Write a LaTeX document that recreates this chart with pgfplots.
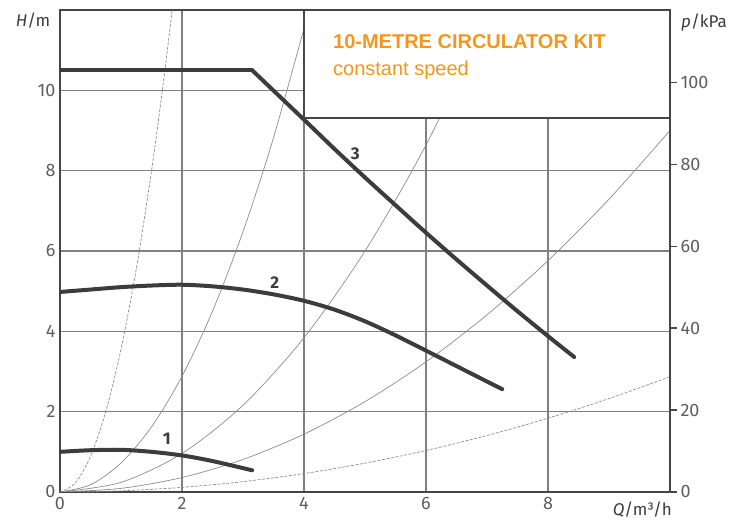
\documentclass[border=0pt]{standalone}
\usepackage{pgfplots}
\pgfplotsset{compat=1.18}
\usepackage{fontspec}
\setmainfont{Fira Sans}
\newfontfamily\titlefont{Liberation Sans}
\definecolor{kit}{RGB}{245,150,30}
\definecolor{ticklab}{RGB}{95,95,95}
\definecolor{pump}{RGB}{60,60,60}
\definecolor{frame}{RGB}{70,70,70}
\definecolor{gridc}{RGB}{128,128,128}
\definecolor{sysc}{RGB}{140,140,140}
\begin{document}
\begin{tikzpicture}
\useasboundingbox (-60pt,-29pt) rectangle (688pt,492pt);
\begin{axis}[at={(0,0)}, anchor=south west, scale only axis,
  width=610pt, height=482pt,
  xmin=0, xmax=10, ymin=0, ymax=12,
  xtick={0,2,4,6,8}, ytick={0,2,4,6,8,10},
  grid=major, major grid style={line width=1.1pt, color=gridc},
  axis line style={line width=2.6pt, color=frame},
  major tick length=0pt,
  tick label style={font=\fontsize{18}{18}\selectfont, color=ticklab},
  /pgf/number format/assume math mode=true,
  xticklabel style={yshift=-2pt},
  yticklabel style={xshift=-1pt},
  axis on top=false]
% system curves H = k Q^2 (tabulated)
\addplot[sysc, line width=0.7pt, dash pattern=on 3pt off 1.5pt, smooth] coordinates {
(0,0) (0.25,0.222) (0.5,0.888) (0.75,1.997) (1.0,3.55) (1.25,5.547) (1.5,7.988) (1.7,10.26) (1.84,12.02)};
\addplot[sysc, line width=0.7pt, smooth] coordinates {
(0,0) (0.5,0.18) (1,0.72) (1.5,1.62) (2,2.88) (2.5,4.5) (3,6.48) (3.5,8.82) (4.09,12.04)};
\addplot[sysc, line width=0.7pt, smooth] coordinates {
(0,0) (1,0.24) (2,0.96) (3,2.16) (4,3.84) (5,6.0) (6,8.64) (7.08,12.03)};
\addplot[sysc, line width=0.7pt, smooth] coordinates {
(0,0) (1,0.09) (2,0.36) (3,0.81) (4,1.44) (5,2.25) (6,3.24) (7,4.41) (8,5.76) (9,7.29) (10,9.0)};
\addplot[sysc, line width=0.7pt, dash pattern=on 3pt off 1.5pt, smooth] coordinates {
(0,0) (1,0.0287) (2,0.115) (3,0.258) (4,0.459) (5,0.718) (6,1.033) (7,1.406) (8,1.837) (9,2.325) (10,2.87)};
% pump curves
\addplot[pump, line width=4pt, line cap=round, smooth] coordinates {
(0,1.0) (0.5,1.04) (1.0,1.05) (1.5,1.0) (2.0,0.91) (2.5,0.77) (3.15,0.54)};
\addplot[pump, line width=4pt, line cap=round, smooth] coordinates {
(0,4.98) (0.5,5.04) (1,5.1) (1.5,5.14) (2,5.16) (2.5,5.12) (3,5.04) (3.5,4.92) (4,4.76) (4.5,4.54) (5,4.25) (5.5,3.90) (6,3.52) (6.5,3.135) (7,2.75) (7.25,2.56)};
\addplot[pump, line width=4pt, line cap=round, line join=round] coordinates {
(0,10.5) (3.15,10.5)};
\addplot[pump, line width=4pt, line cap=round, smooth] coordinates {
(3.15,10.5) (4.0,9.27) (4.5,8.54) (5,7.83) (5.5,7.14) (6,6.455) (6.5,5.79) (7,5.14) (7.5,4.50) (8.0,3.88) (8.43,3.36)};
\node[font=\fontsize{17}{17}\selectfont\bfseries, color=pump] at (axis cs:1.75,1.32) {1};
\node[font=\fontsize{17}{17}\selectfont\bfseries, color=pump] at (axis cs:3.52,5.22) {2};
\node[font=\fontsize{17}{17}\selectfont\bfseries, color=pump] at (axis cs:4.84,8.42) {3};
% title box
\draw[line width=2pt, color=frame, fill=white] (axis cs:4,9.3) rectangle (axis cs:10,12);
\node[anchor=base west, inner sep=0pt, font=\titlefont\bfseries\fontsize{20}{20}\selectfont, color=kit] at (axis cs:4.475,11.04) {10-METRE CIRCULATOR KIT};
\node[anchor=base west, inner sep=0pt, font=\titlefont\fontsize{20}{20}\selectfont, color=kit] at (axis cs:4.475,10.37) {constant speed};
\end{axis}
\begin{axis}[at={(0,0)}, anchor=south west, scale only axis,
  width=610pt, height=482pt,
  xmin=0, xmax=10, ymin=0, ymax=117.65,
  axis y line*=right, axis x line=none,
  ytick={0,20,40,60,80,100},
  axis line style={line width=2.6pt, color=frame},
  major tick length=7pt, tick align=outside,
  major tick style={line width=1.3pt, color=frame},
  tick label style={font=\fontsize{18}{18}\selectfont, color=ticklab},
  /pgf/number format/assume math mode=true]
\end{axis}
\node[font=\fontsize{17}{17}\selectfont, color=pump] at (-27pt,471pt) {\textit{H}/m};
\node[font=\fontsize{17}{17}\selectfont, color=pump] at (644pt,470pt) {\textit{p}/kPa};
\node[anchor=base east, inner sep=0pt, font=\fontsize{17}{17}\selectfont, color=pump] at (612pt,-24pt) {\textit{Q}/m³/h};
\end{tikzpicture}
\end{document}
